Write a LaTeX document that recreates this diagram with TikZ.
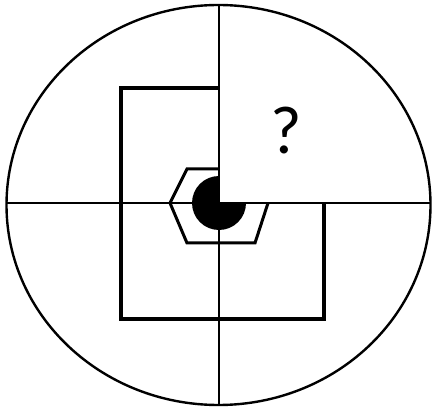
\documentclass[tikz,border=0pt]{standalone}
\usepackage{fontspec}
\setmainfont{Carlito}
\begin{document}
\begin{tikzpicture}[x=1pt,y=-1pt,
  thin line/.style={line width=2.4pt, black},
  thick line/.style={line width=4.8pt, black, line join=miter},
  hex line/.style={line width=3pt, black, line join=miter}]
\useasboundingbox (0,0) rectangle (433,411);
\fill[white] (0,0) rectangle (433,411);
\coordinate (c) at (219,203);
\coordinate (top) at (219,5);
\coordinate (bot) at (219,405);
\coordinate (lft) at (7,203);
\coordinate (rgt) at (430,203);
% black three-quarter disc (top-right quarter missing)
\fill[black] (c) -- (246,203) arc[start angle=0, end angle=270, radius=27] -- cycle;
% hexagon (missing upper-right part)
\draw[hex line] (219,169) -- (187,169) -- (170,203) -- (187,243) -- (255,243) -- (268,203);
% outer polyline
\draw[thick line] (219,88) -- (121,88) -- (121,319) -- (324,319) -- (324,203);
% cross lines
\draw[thin line] (top) -- (bot);
\draw[thin line] (lft) -- (rgt);
% ellipse
\draw[thin line] (218.5,205) ellipse[x radius=212, y radius=200];
\node[font=\fontsize{68}{70}\selectfont, inner sep=0pt] (q) at (286,131) {?};
\end{tikzpicture}
\end{document}
